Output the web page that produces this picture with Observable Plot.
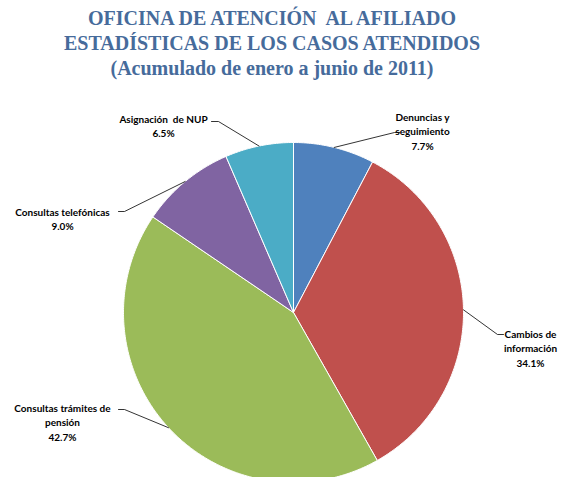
<!DOCTYPE html>
<html><head><meta charset="utf-8">
<script src="https://cdn.jsdelivr.net/npm/d3@7"></script>
<script src="https://cdn.jsdelivr.net/npm/@observablehq/plot@0.6"></script>
<style>
html,body{margin:0;padding:0;background:#fff;overflow:hidden;width:562px;height:477px}
#title{height:85px;width:562px;box-sizing:border-box;padding-top:6px;text-align:center;font-family:"Liberation Serif","DejaVu Serif",serif;font-weight:bold;color:#466b9b;font-size:20px;line-height:25px;padding-right:18px}
</style></head>
<body>
<div id="title">OFICINA DE ATENCIÓN&nbsp; AL AFILIADO<br>ESTADÍSTICAS DE LOS CASOS ATENDIDOS<br>(Acumulado de enero a junio de 2011)</div>
<div id="chart"></div>
<script>
const categories = ["Denuncias y seguimiento", "Cambios de información", "Consultas trámites de pensión", "Consultas telefónicas", "Asignación de NUP"];
const labelLines = ["Denuncias y\nseguimiento", "Cambios de\ninformación", "Consultas trámites de\npensión", "Consultas telefónicas", "Asignación  de NUP"];
const values = [7.7, 34.1, 42.7, 9.0, 6.5];
const colors = ["#4F81BD", "#C0504D", "#9BBB59", "#8064A2", "#4BACC6"];

// layout (pixel space of the svg)
const W = 562, H = 392;
const cx = 293, cy = 227, R = 170;
const labelLayout = [
  {tx: 422, ty: 25, ex: 394, ey: 47, hx: 399},
  {tx: 530, ty: 242, ex: 497, ey: 249, hx: 503},
  {tx: 62, ty: 316, ex: 124, ey: 324, hx: 118},
  {tx: 62, ty: 120, ex: 124, ey: 126, hx: 118},
  {tx: 163, ty: 27, ex: 218, ey: 36, hx: 211}
];

const data = categories.map((c, i) => ({cat: c, value: values[i], color: colors[i], i}));
const arcs = d3.pie().sort(null).value(d => d.value)(data);

const polyPts = [];
arcs.forEach(a => {
  const n = Math.max(4, Math.ceil((a.endAngle - a.startAngle) / 0.01));
  polyPts.push({i: a.data.i, x: cx, y: cy, color: a.data.color});
  for (let k = 0; k <= n; k++) {
    const t = a.startAngle + (a.endAngle - a.startAngle) * k / n;
    polyPts.push({i: a.data.i, x: cx + R * Math.sin(t), y: cy - R * Math.cos(t), color: a.data.color});
  }
  polyPts.push({i: a.data.i, x: cx, y: cy, color: a.data.color});
});

const leaderPts = [];
const labels = [];
arcs.forEach(a => {
  const i = a.data.i, L = labelLayout[i];
  const m = (a.startAngle + a.endAngle) / 2;
  leaderPts.push({i, x: cx + R * Math.sin(m), y: cy - R * Math.cos(m)});
  leaderPts.push({i, x: L.ex, y: L.ey});
  leaderPts.push({i, x: L.hx, y: L.ey});
  labels.push({x: L.tx, y: L.ty, text: labelLines[i] + "\n" + a.data.value.toFixed(1) + "%"});
});

const chart = Plot.plot({
  width: W, height: H,
  margin: 0,
  x: {domain: [0, W], range: [0, W], axis: null},
  y: {domain: [0, H], range: [0, H], axis: null},
  color: {type: "identity"},
  marks: [
    Plot.line(polyPts, {x: "x", y: "y", z: "i", fill: "color", stroke: "white", strokeWidth: 1, curve: "linear"}),
    Plot.line(leaderPts, {x: "x", y: "y", z: "i", stroke: "black", strokeWidth: 0.8, curve: "linear"}),
    Plot.text(labels, {x: "x", y: "y", text: "text", textAnchor: "middle", lineAnchor: "top", lineHeight: 1.45, fontSize: 10, fontWeight: "bold", fill: "black", fontFamily: "Lato, 'Open Sans', sans-serif"})
  ],
  style: {fontFamily: "Lato, sans-serif", background: "white", overflow: "hidden"}
});
document.getElementById("chart").appendChild(chart);
</script>
</body></html>
